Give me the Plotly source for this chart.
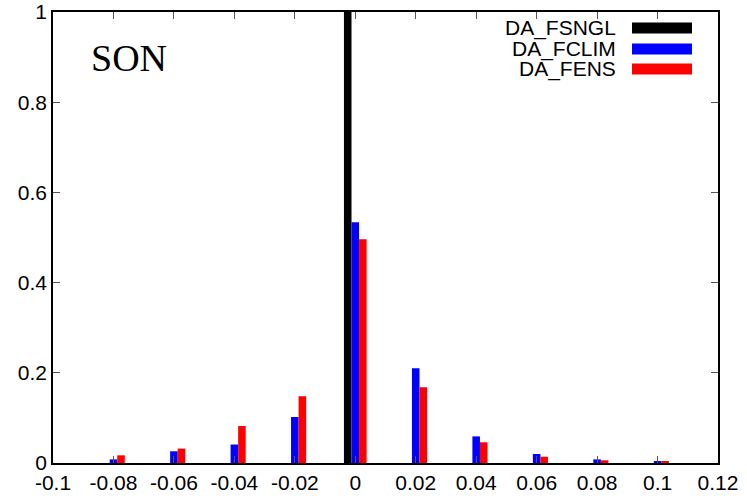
import plotly.graph_objects as go

# ---- data ----
bins = [-0.08, -0.06, -0.04, -0.02, 0.0, 0.02, 0.04, 0.06, 0.08, 0.10]
da_fsngl = [0, 0, 0, 0, 1.0, 0, 0, 0, 0, 0]
da_fclim = [0.008, 0.026, 0.041, 0.102, 0.534, 0.210, 0.059, 0.020, 0.008, 0.003]
da_fens = [0.017, 0.032, 0.082, 0.148, 0.496, 0.168, 0.046, 0.014, 0.006, 0.003]

series_names = ["DA_FSNGL", "DA_FCLIM", "DA_FENS"]
series_values = [da_fsngl, da_fclim, da_fens]
series_colors = ["#000000", "#0000ff", "#ff0000"]

x_ticks = [-0.1, -0.08, -0.06, -0.04, -0.02, 0, 0.02, 0.04, 0.06, 0.08, 0.1, 0.12]
x_ticklabels = ["-0.1", "-0.08", "-0.06", "-0.04", "-0.02", "0", "0.02", "0.04", "0.06", "0.08", "0.1", "0.12"]
y_ticks = [0, 0.2, 0.4, 0.6, 0.8, 1]
y_ticklabels = ["0", "0.2", "0.4", "0.6", "0.8", "1"]
season = "SON"

fig = go.Figure()
for name, vals, col in zip(series_names, series_values, series_colors):
    fig.add_trace(go.Bar(x=bins, y=vals, name=name, marker=dict(color=col, line=dict(width=0)),
                         showlegend=False))

font_main = "Liberation Sans, Arial, sans-serif"
L, R, T, B = 53, 718, 12, 463
W = R - L
H = B - T

fig.update_layout(
    width=747, height=499,
    margin=dict(l=L, r=747 - R, t=T, b=499 - B, autoexpand=False),
    paper_bgcolor="white", plot_bgcolor="white",
    barmode="group", bargap=0.625, bargroupgap=0,
    font=dict(family=font_main, size=21, color="black"),
    xaxis=dict(range=[-0.1, 0.12], tickmode="array", tickvals=x_ticks, ticktext=x_ticklabels,
               ticks="inside", ticklen=7, tickwidth=1, tickcolor="#555", automargin=False,
               showline=True, linecolor="black", linewidth=1.5, mirror="ticks",
               showgrid=False, zeroline=False, tickfont=dict(size=21)),
    yaxis=dict(range=[0, 1], tickmode="array", tickvals=y_ticks, ticktext=y_ticklabels,
               ticks="inside", ticklen=7, tickwidth=1, tickcolor="#555", automargin=False,
               showline=True, linecolor="black", linewidth=1.5, mirror="ticks",
               showgrid=False, zeroline=False, tickfont=dict(size=21)),
)

# SON label
fig.add_annotation(text=season, xref="paper", yref="paper", x=(89 - L) / W, y=1 - (58 - T) / H,
                   xanchor="left", yanchor="middle", showarrow=False,
                   font=dict(family="Liberation Serif, Times New Roman, serif", size=38, color="black"))

# gnuplot-style key
rows_px = [28, 49, 69]
for name, col, ry in zip(series_names, series_colors, rows_px):
    yp = 1 - (ry - T) / H
    fig.add_annotation(text=name, xref="paper", yref="paper", x=(618 - L) / W, y=yp,
                       xanchor="right", yanchor="middle", showarrow=False,
                       font=dict(family=font_main, size=21, color="black"))
    fig.add_shape(type="line", xref="paper", yref="paper",
                  x0=(632 - L) / W, x1=(692 - L) / W, y0=yp, y1=yp,
                  line=dict(color=col, width=11))

fig.write_html("out.html", config={"displayModeBar": False},
               post_script="document.body.style.margin='0';document.body.style.overflow='hidden';")
